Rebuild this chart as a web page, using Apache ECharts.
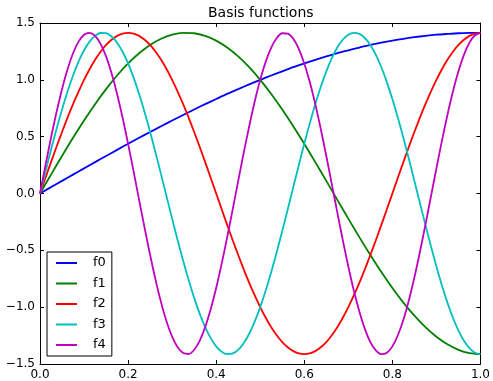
<!DOCTYPE html>
<html>
<head>
<meta charset="utf-8">
<script src="https://cdn.jsdelivr.net/npm/echarts@6/dist/echarts.min.js"></script>
<style>
  html, body { margin: 0; padding: 0; background: #fff; }
  #chart { width: 493px; height: 381px; }
</style>
</head>
<body>
<div id="chart"></div>
<script>
// coarse x positions (step 0.025) used by the slow curves
var xs = [0, 0.025, 0.05, 0.075, 0.1, 0.125, 0.15, 0.175, 0.2, 0.225, 0.25, 0.275, 0.3, 0.325, 0.35, 0.375,
  0.4, 0.425, 0.45, 0.475, 0.5, 0.525, 0.55, 0.575, 0.6, 0.625, 0.65, 0.675, 0.7, 0.725, 0.75, 0.775,
  0.8, 0.825, 0.85, 0.875, 0.9, 0.925, 0.95, 0.975, 1];
// fine x positions (step 0.0125) for the faster curves
var xsFine = [0, 0.0125, 0.025, 0.0375, 0.05, 0.0625, 0.075, 0.0875, 0.1, 0.1125, 0.125, 0.1375, 0.15, 0.1625,
  0.175, 0.1875, 0.2, 0.2125, 0.225, 0.2375, 0.25, 0.2625, 0.275, 0.2875, 0.3, 0.3125, 0.325, 0.3375, 0.35,
  0.3625, 0.375, 0.3875, 0.4, 0.4125, 0.425, 0.4375, 0.45, 0.4625, 0.475, 0.4875, 0.5, 0.5125, 0.525, 0.5375,
  0.55, 0.5625, 0.575, 0.5875, 0.6, 0.6125, 0.625, 0.6375, 0.65, 0.6625, 0.675, 0.6875, 0.7, 0.7125, 0.725,
  0.7375, 0.75, 0.7625, 0.775, 0.7875, 0.8, 0.8125, 0.825, 0.8375, 0.85, 0.8625, 0.875, 0.8875, 0.9, 0.9125,
  0.925, 0.9375, 0.95, 0.9625, 0.975, 0.9875, 1];

var f0 = [0, 0.056, 0.111, 0.166, 0.221, 0.276, 0.330, 0.384, 0.437, 0.490, 0.541, 0.592, 0.642, 0.691,
  0.739, 0.786, 0.831, 0.876, 0.918, 0.960, 1.000, 1.038, 1.075, 1.111, 1.144, 1.176, 1.206, 1.234,
  1.260, 1.284, 1.307, 1.327, 1.345, 1.361, 1.375, 1.387, 1.397, 1.404, 1.410, 1.413, 1.414];
var f1 = [0, 0.166, 0.330, 0.490, 0.642, 0.786, 0.918, 1.038, 1.144, 1.234, 1.307, 1.361, 1.397, 1.413,
  1.410, 1.387, 1.345, 1.284, 1.206, 1.111, 1.000, 0.876, 0.739, 0.592, 0.437, 0.276, 0.111, -0.056,
  -0.221, -0.384, -0.541, -0.691, -0.831, -0.960, -1.075, -1.176, -1.260, -1.327, -1.375, -1.404, -1.414];
var f2 = [0, 0.139, 0.276, 0.411, 0.541, 0.667, 0.786, 0.897, 1.000, 1.093, 1.176, 1.247, 1.307, 1.353,
  1.387, 1.407, 1.414, 1.407, 1.387, 1.353, 1.307, 1.247, 1.176, 1.093, 1.000, 0.897, 0.786, 0.667, 0.541,
  0.411, 0.276, 0.139, 0, -0.139, -0.276, -0.411, -0.541, -0.667, -0.786, -0.897, -1.000, -1.093, -1.176,
  -1.247, -1.307, -1.353, -1.387, -1.407, -1.414, -1.407, -1.387, -1.353, -1.307, -1.247, -1.176, -1.093,
  -1.000, -0.897, -0.786, -0.667, -0.541, -0.411, -0.276, -0.139, 0, 0.139, 0.276, 0.411, 0.541, 0.667,
  0.786, 0.897, 1.000, 1.093, 1.176, 1.247, 1.307, 1.353, 1.387, 1.407, 1.414];
var f3 = [0, 0.194, 0.384, 0.567, 0.739, 0.897, 1.038, 1.160, 1.260, 1.336, 1.387, 1.412, 1.410, 1.381,
  1.327, 1.247, 1.144, 1.019, 0.876, 0.715, 0.541, 0.357, 0.166, -0.028, -0.221, -0.411, -0.592, -0.762,
  -0.918, -1.057, -1.176, -1.272, -1.345, -1.392, -1.413, -1.407, -1.375, -1.317, -1.234, -1.128, -1.000,
  -0.854, -0.691, -0.515, -0.330, -0.139, 0.056, 0.249, 0.437, 0.617, 0.786, 0.939, 1.075, 1.191, 1.284,
  1.353, 1.397, 1.414, 1.404, 1.368, 1.307, 1.220, 1.111, 0.980, 0.831, 0.667, 0.490, 0.303, 0.111,
  -0.083, -0.276, -0.463, -0.642, -0.809, -0.960, -1.093, -1.206, -1.296, -1.361, -1.401, -1.414];
var f4 = [0, 0.249, 0.490, 0.715, 0.918, 1.093, 1.234, 1.336, 1.397, 1.414, 1.387, 1.317, 1.206, 1.057,
  0.876, 0.667, 0.437, 0.194, -0.056, -0.303, -0.541, -0.762, -0.960, -1.128, -1.260, -1.353, -1.404,
  -1.412, -1.375, -1.296, -1.176, -1.019, -0.831, -0.617, -0.384, -0.139, 0.111, 0.357, 0.592, 0.809,
  1.000, 1.160, 1.284, 1.368, 1.410, 1.407, 1.361, 1.272, 1.144, 0.980, 0.786, 0.567, 0.330, 0.083,
  -0.166, -0.411, -0.642, -0.854, -1.038, -1.191, -1.307, -1.381, -1.413, -1.401, -1.345, -1.247, -1.111,
  -0.939, -0.739, -0.515, -0.276, -0.028, 0.221, 0.463, 0.691, 0.897, 1.075, 1.220, 1.327, 1.392, 1.414];

var seriesNames = ['f0', 'f1', 'f2', 'f3', 'f4'];
var seriesData = [f0, f1, f2, f3, f4];
var seriesX = [xs, xs, xsFine, xsFine, xsFine];
var colors = ['#0000ff', '#008000', '#ff0000', '#00bfbf', '#bf00bf'];

var fontFamily = 'DejaVu Sans';

function fmt(v) {
  return (v < 0 ? '\u2212' : '') + Math.abs(v).toFixed(1);
}

var chart = echarts.init(document.getElementById('chart'), null, { renderer: 'canvas' });

var tickStyle = { show: true, inside: true, length: 4, lineStyle: { color: '#000', width: 1 } };

var option = {
  backgroundColor: '#fff',
  animation: false,
  title: {
    text: 'Basis functions',
    left: 203,
    top: 1,
    textStyle: { fontFamily: fontFamily, fontSize: 14, fontWeight: 'normal', color: '#000' }
  },
  legend: {
    orient: 'vertical',
    left: 47,
    top: 252,
    data: seriesNames,
    icon: 'rect',
    itemWidth: 21,
    itemHeight: 2,
    itemGap: 6.5,
    padding: [4, 6, 4, 9],
    borderColor: '#000',
    borderWidth: 1,
    borderRadius: 0,
    textStyle: { fontFamily: fontFamily, fontSize: 13, color: '#000', lineHeight: 14, padding: [0, 0, 0, 11] }
  },
  grid: { left: 40, right: 11, top: 23, bottom: 16, containLabel: false },
  xAxis: [{
    type: 'value', min: 0, max: 1, interval: 0.2, position: 'bottom',
    axisLine: { show: true, onZero: false, lineStyle: { color: '#000', width: 1 } },
    axisTick: tickStyle,
    axisLabel: { formatter: fmt, color: '#000', fontFamily: fontFamily, fontSize: 12, margin: 5 },
    splitLine: { show: false }
  }, {
    type: 'value', min: 0, max: 1, interval: 0.2, position: 'top',
    axisLine: { show: true, onZero: false, lineStyle: { color: '#000', width: 1 } },
    axisTick: tickStyle,
    axisLabel: { show: false },
    splitLine: { show: false }
  }],
  yAxis: [{
    type: 'value', min: -1.5, max: 1.5, interval: 0.5, position: 'left',
    axisLine: { show: true, onZero: false, lineStyle: { color: '#000', width: 1 } },
    axisTick: tickStyle,
    axisLabel: { formatter: fmt, color: '#000', fontFamily: fontFamily, fontSize: 12, margin: 5 },
    splitLine: { show: false }
  }, {
    type: 'value', min: -1.5, max: 1.5, interval: 0.5, position: 'right',
    axisLine: { show: true, onZero: false, lineStyle: { color: '#000', width: 1 } },
    axisTick: tickStyle,
    axisLabel: { show: false },
    splitLine: { show: false }
  }],
  series: seriesNames.map(function (name, k) {
    return {
      name: name,
      type: 'line',
      xAxisIndex: 0,
      yAxisIndex: 0,
      smooth: 0.3,
      showSymbol: false,
      symbol: 'none',
      color: colors[k],
      lineStyle: { color: colors[k], width: 1.8 },
      data: seriesX[k].map(function (x, i) { return [x, seriesData[k][i]]; })
    };
  })
};

chart.setOption(option);
</script>
</body>
</html>
